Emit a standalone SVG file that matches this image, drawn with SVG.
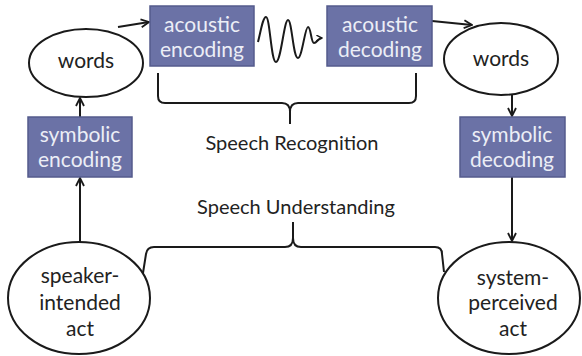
<svg xmlns="http://www.w3.org/2000/svg" width="582" height="356" viewBox="0 0 582 356">
<defs>
<style>
.box{fill:#6b72a6;stroke:#545b8c;stroke-width:1.5}
.ell{fill:#fff;stroke:#1a1a1a;stroke-width:2}
.bt{font-family:Lato,"Open Sans",sans-serif;font-size:21px;fill:#eceef6;text-anchor:middle}
.nt{font-family:Lato,"Open Sans",sans-serif;font-size:21px;fill:#222;text-anchor:middle}
.lt{font-family:Lato,"Open Sans",sans-serif;font-size:20px;fill:#222;text-anchor:middle}
.ln{fill:none;stroke:#1a1a1a;stroke-width:2}
</style>
<marker id="arr" viewBox="0 0 10 10" refX="9" refY="5" markerWidth="10" markerHeight="10" markerUnits="userSpaceOnUse" orient="auto">
<path d="M1,1 L9,5 L1,9" fill="none" stroke="#1a1a1a" stroke-width="1.8"/>
</marker>
<marker id="arrs" viewBox="0 0 10 10" refX="9" refY="5" markerWidth="7" markerHeight="7" markerUnits="userSpaceOnUse" orient="auto">
<path d="M1,1 L9,5 L1,9" fill="none" stroke="#1a1a1a" stroke-width="2"/>
</marker>
</defs>
<rect width="582" height="356" fill="#fff"/>
<g id="connectors">
<path class="ln" d="M118,27 L149,22" marker-end="url(#arr)"/>
<path class="ln" d="M80,117 L80,98" marker-end="url(#arr)"/>
<path class="ln" d="M80,242 L80,178" marker-end="url(#arr)"/>
<path class="ln" d="M432,21 L472,25" marker-end="url(#arr)"/>
<path class="ln" d="M512,95 L512,116" marker-end="url(#arr)"/>
<path class="ln" d="M512,177 L512,241" marker-end="url(#arr)"/>
<path class="ln" d="M258,42 C261,30 263,17 266,17 C270,17 271,62 276,62 C281,62 284,20 288,20 C292,20 293,58 298,58 C302,58 305,27 308,27 C311,27 311,43 314,43 C317,43 318,38 322,38" marker-end="url(#arrs)" stroke-width="1.8"/>
<path class="ln" d="M158,73 V96 Q158,103 165,103 H282 Q290,103 290,112 V124 M290,112 Q290,103 298,103 H409 Q416,103 416,96 V73"/>
<path class="ln" d="M143,273 L146,254 Q147,247 154,247 H285 Q293,247 293,238 V222 M293,238 Q293,247 301,247 H435 Q442,247 442,254 L444,272"/>
</g>
<g id="words-left"><ellipse class="ell" cx="86" cy="63" rx="57" ry="34"/><text class="nt" x="86" y="68">words</text></g>
<g id="acoustic-encoding"><rect class="box" x="150" y="6" width="104" height="60"/><text class="bt" x="202" y="32">acoustic</text><text class="bt" x="202" y="57">encoding</text></g>
<g id="acoustic-decoding"><rect class="box" x="327" y="6" width="105" height="60"/><text class="bt" x="380" y="32">acoustic</text><text class="bt" x="380" y="57">decoding</text></g>
<g id="words-right"><ellipse class="ell" cx="501" cy="59" rx="57" ry="36"/><text class="nt" x="501" y="66">words</text></g>
<g id="symbolic-encoding"><rect class="box" x="28" y="117" width="104" height="60"/><text class="bt" x="80" y="142">symbolic</text><text class="bt" x="80" y="167">encoding</text></g>
<g id="symbolic-decoding"><rect class="box" x="460" y="117" width="105" height="60"/><text class="bt" x="512" y="142">symbolic</text><text class="bt" x="512" y="167">decoding</text></g>
<g id="speaker-intended-act"><ellipse class="ell" cx="79" cy="298" rx="71" ry="56"/><text class="nt" x="80" y="283">speaker-</text><text class="nt" x="80" y="310">intended</text><text class="nt" x="80" y="336">act</text></g>
<g id="system-perceived-act"><ellipse class="ell" cx="509" cy="298" rx="71" ry="56"/><text class="nt" x="513" y="285">system-</text><text class="nt" x="513" y="310">perceived</text><text class="nt" x="513" y="336">act</text></g>
<text class="lt" x="292" y="150">Speech Recognition</text>
<text class="lt" x="296" y="214">Speech Understanding</text>
</svg>
